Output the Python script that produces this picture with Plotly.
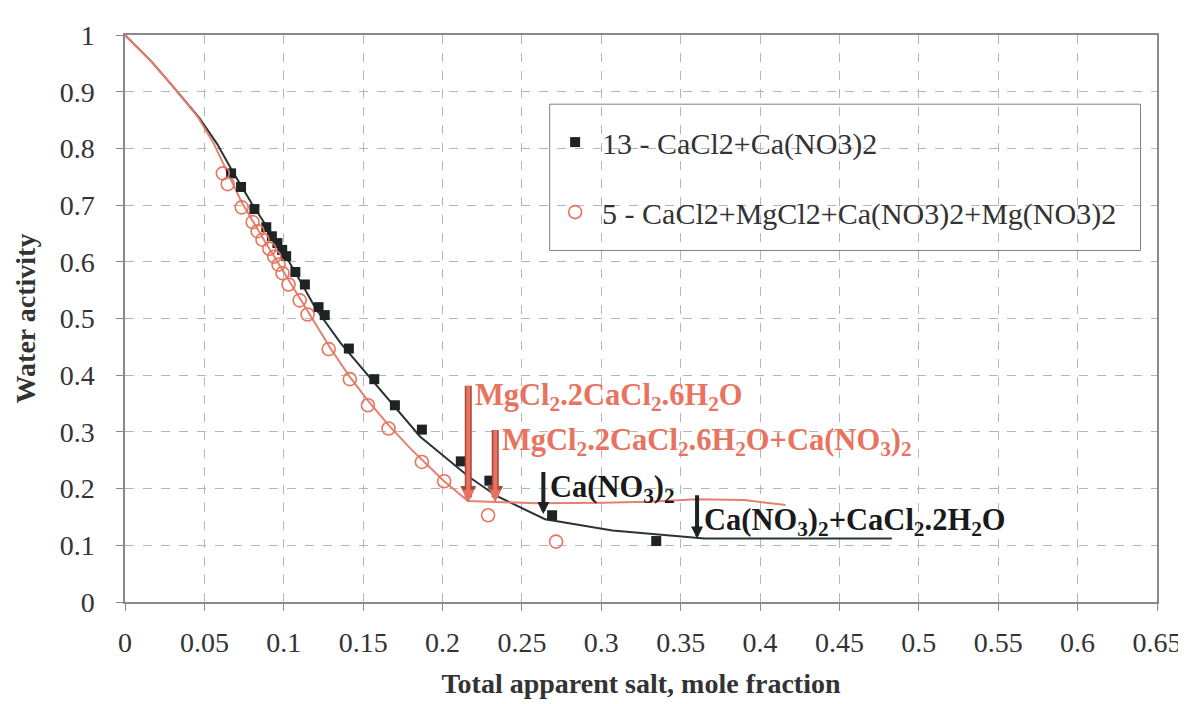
import plotly.graph_objects as go

# ---------------- data ----------------
sq_x = [0.0668, 0.0731, 0.0815, 0.0890, 0.0925, 0.0960, 0.0990, 0.1015, 0.1073, 0.1133,
        0.1219, 0.1258, 0.1410, 0.1570, 0.1700, 0.1870, 0.2115, 0.2295, 0.2690, 0.3346]
sq_y = [0.756, 0.732, 0.693, 0.661, 0.645, 0.633, 0.621, 0.610, 0.582, 0.560,
        0.520, 0.506, 0.447, 0.393, 0.347, 0.304, 0.248, 0.214, 0.153, 0.1075]

ci_x = [0.0616, 0.0647, 0.0735, 0.0804, 0.0835, 0.0866, 0.0909, 0.0940, 0.0967, 0.0992,
        0.1030, 0.1100, 0.1150, 0.1283, 0.1416, 0.1530, 0.1660, 0.1870, 0.2010, 0.2287, 0.2715]
ci_y = [0.756, 0.737, 0.696, 0.670, 0.654, 0.639, 0.623, 0.609, 0.595, 0.580,
        0.560, 0.532, 0.507, 0.446, 0.393, 0.347, 0.306, 0.247, 0.213, 0.153, 0.1065]

blk_x = [0.0, 0.0167, 0.0303, 0.047, 0.058, 0.0668, 0.080, 0.090, 0.100, 0.110, 0.120,
         0.1357, 0.1524, 0.169, 0.1858, 0.2026, 0.217, 0.234, 0.2646, 0.307, 0.360, 0.365, 0.483]
blk_y = [1.0, 0.953, 0.909, 0.853, 0.808, 0.764, 0.702, 0.659, 0.616, 0.568, 0.518,
         0.457, 0.402, 0.346, 0.292, 0.253, 0.220, 0.187, 0.146, 0.126, 0.113, 0.112, 0.112]

red_x = [0.0, 0.0167, 0.0303, 0.046, 0.056, 0.063, 0.0735, 0.0866, 0.0992, 0.110, 0.120,
         0.130, 0.1416, 0.153, 0.166, 0.180, 0.190, 0.201, 0.216, 0.233, 0.260, 0.300,
         0.330, 0.360, 0.390, 0.416]
red_y = [1.0, 0.953, 0.909, 0.855, 0.808, 0.768, 0.705, 0.643, 0.585, 0.535, 0.490,
         0.445, 0.397, 0.355, 0.312, 0.270, 0.243, 0.213, 0.178, 0.176, 0.174, 0.175,
         0.177, 0.181, 0.180, 0.171]

arrow_x = [0.2162, 0.2332, 0.2635, 0.3603]
arrow_top = [0.384, 0.306, 0.232, 0.191]
arrow_tip = [0.177, 0.177, 0.155, 0.112]
arrow_labels = [
    "MgCl<sub>2</sub>.2CaCl<sub>2</sub>.6H<sub>2</sub>O",
    "MgCl<sub>2</sub>.2CaCl<sub>2</sub>.6H<sub>2</sub>O+Ca(NO<sub>3</sub>)<sub>2</sub>",
    "Ca(NO<sub>3</sub>)<sub>2</sub>",
    "Ca(NO<sub>3</sub>)<sub>2</sub>+CaCl<sub>2</sub>.2H<sub>2</sub>O",
]
arrow_kind = ["red", "red", "black", "black"]

x_ticks = [0, 0.05, 0.1, 0.15, 0.2, 0.25, 0.3, 0.35, 0.4, 0.45, 0.5, 0.55, 0.6, 0.65]
x_tick_text = ["0", "0.05", "0.1", "0.15", "0.2", "0.25", "0.3", "0.35", "0.4", "0.45",
               "0.5", "0.55", "0.6", "0.65"]
y_ticks = [0, 0.1, 0.2, 0.3, 0.4, 0.5, 0.6, 0.7, 0.8, 0.9, 1.0]
y_tick_text = ["0", "0.1", "0.2", "0.3", "0.4", "0.5", "0.6", "0.7", "0.8", "0.9", "1"]

series_names = ["13 - CaCl2+Ca(NO3)2", "5 - CaCl2+MgCl2+Ca(NO3)2+Mg(NO3)2"]

# ---------------- style ----------------
FONT = "'Liberation Serif', 'Times New Roman', Times, serif"
BLACK = "#1e2424"
SALMON = "#e8735e"
RED_DARK = "#a8483a"
GRID = "#b5b5b5"
AXIS = "#8a8a8a"
TXT = "#333333"

fig = go.Figure()

fig.add_trace(go.Scatter(x=blk_x, y=blk_y, mode="lines", line=dict(color="#2a3434", width=2),
                         showlegend=False, hoverinfo="skip"))
fig.add_trace(go.Scatter(x=red_x, y=red_y, mode="lines", line=dict(color="#e58070", width=2),
                         showlegend=False, hoverinfo="skip"))

fig.add_trace(go.Scatter(x=sq_x, y=sq_y, mode="markers", name=series_names[0],
                         legendgroup="a",
                         marker=dict(symbol="square", size=10, color=BLACK,
                                     line=dict(width=0))))
fig.add_trace(go.Scatter(x=ci_x, y=ci_y, mode="markers", name=series_names[1],
                         legendgroup="b",
                         marker=dict(symbol="circle-open", size=13, color=SALMON,
                                     line=dict(width=1.6, color=SALMON))))

annotations = []
label_yshift = [8, 8, 2, -7]
for i in range(len(arrow_x)):
    if arrow_kind[i] == "red":
        layers = [(RED_DARK, 7), (SALMON, 4)]
        tcol = SALMON
    else:
        layers = [(BLACK, 4)]
        tcol = "#1a1a1a"
    for col, w in layers:
        annotations.append(dict(
            x=arrow_x[i], y=arrow_tip[i], ax=arrow_x[i], ay=arrow_top[i],
            xref="x", yref="y", axref="x", ayref="y",
            text="", showarrow=True, arrowhead=2, arrowsize=0.45 if w > 4 else 0.6,
            arrowwidth=w, arrowcolor=col, standoff=0, startstandoff=0))
    annotations.append(dict(
        x=arrow_x[i], y=arrow_top[i], xref="x", yref="y",
        text="<b>" + arrow_labels[i] + "</b>", showarrow=False,
        xanchor="left", yanchor="top", xshift=5, yshift=label_yshift[i],
        font=dict(family=FONT, size=30.5, color=tcol)))

# legend frame (drawn as a shape so that its padding matches the original)
fig.add_shape(type="rect", xref="paper", yref="paper", x0=0.4115, x1=0.984,
              y0=0.62, y1=0.878, line=dict(color="#808080", width=1),
              fillcolor="white", layer="between")

fig.update_layout(
    width=1186, height=704,
    margin=dict(l=117, r=29, t=24, b=110),
    paper_bgcolor="white", plot_bgcolor="white",
    font=dict(family=FONT, size=28, color=TXT),
    annotations=annotations,
    showlegend=True,
    legend=dict(x=0.41, y=0.857, xanchor="left", yanchor="top",
                borderwidth=0, bgcolor="rgba(0,0,0,0)",
                font=dict(family=FONT, size=30, color=TXT),
                traceorder="grouped", tracegroupgap=28, itemwidth=44),
)
fig.update_xaxes(range=[0, 0.65], tickvals=x_ticks, ticktext=x_tick_text,
                 showgrid=True, gridcolor=GRID, griddash="dash", gridwidth=1,
                 showline=True, linecolor=AXIS, linewidth=1.5, mirror=True,
                 ticks="outside", ticklen=7, tickcolor=AXIS, zeroline=False,
                 ticklabelstandoff=8,
                 tickfont=dict(family=FONT, size=28, color=TXT),
                 title=dict(text="<b>Total apparent salt, mole fraction</b>",
                            font=dict(family=FONT, size=28, color=TXT), standoff=16))
fig.update_yaxes(range=[0, 1], tickvals=y_ticks, ticktext=y_tick_text,
                 showgrid=True, gridcolor=GRID, griddash="dash", gridwidth=1,
                 showline=True, linecolor=AXIS, linewidth=1.5, mirror=True,
                 ticks="outside", ticklen=7, tickcolor=AXIS, zeroline=False,
                 ticklabelstandoff=16,
                 tickfont=dict(family=FONT, size=28, color=TXT),
                 title=dict(text="<b>Water activity</b>",
                            font=dict(family=FONT, size=28, color=TXT), standoff=16))

fig.write_html("out.html")
